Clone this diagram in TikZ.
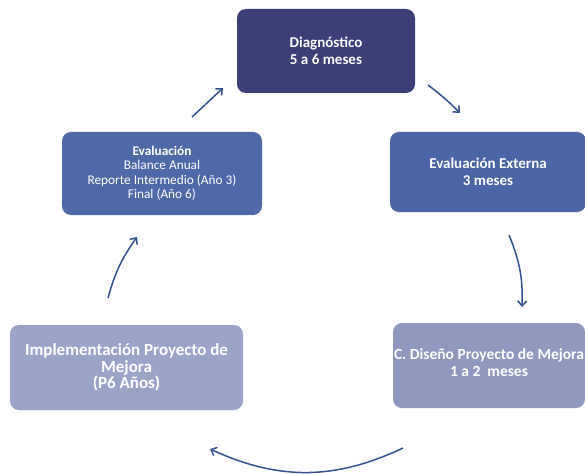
\documentclass[tikz,border=0pt]{standalone}
\usepackage{fontspec}
\setmainfont{Carlito}
\usetikzlibrary{arrows.meta}

\definecolor{diagblue}{HTML}{3B3F75}
\definecolor{evalblue}{HTML}{4E69A8}
\definecolor{extblue}{HTML}{4A66A6}
\definecolor{implgray}{HTML}{9BA3C8}
\definecolor{disgray}{HTML}{9098BF}
\definecolor{flowblue}{HTML}{34528F}

\begin{document}
\begin{tikzpicture}
  [x=1pt, y=-1pt, ->, >={Straight Barb[length=5pt,width=9pt]},
   stage/.style={rounded corners=9pt, text=white, align=center, inner sep=0pt,
     font=\fontsize{15}{17.5}\selectfont\bfseries},
   flow/.style={every edge/.style={draw=flowblue, line width=1.5pt}}]
	\useasboundingbox [fill=white] (0,0) rectangle (585,473);

	% stages of the cycle
	\node [stage, fill=diagblue, minimum width=178pt, minimum height=84pt] (diag) at (326,51) {Diagnóstico\\5 a 6 meses};
	\node [stage, fill=extblue, minimum width=196pt, minimum height=80pt] (extern) at (488,172) {Evaluación Externa\\3 meses};
	\node [stage, fill=disgray, minimum width=192pt, minimum height=85pt, text depth=6pt,
	  font=\fontsize{15.5}{17}\selectfont\bfseries] (diseno) at (489,365.5) {C. Diseño Proyecto de Mejora\\1 a 2~~meses};
	\node [stage, fill=implgray, minimum width=233pt, minimum height=85pt,
	  font=\fontsize{17}{16.5}\selectfont\bfseries] (implem) at (126.5,367.5) {Implementación Proyecto de\\Mejora\\(P6 Años)};
	\node [stage, fill=evalblue, minimum width=200pt, minimum height=83pt,
	  font=\fontsize{13.3}{14.5}\selectfont] (eval) at (162,173.5) {\textbf{Evaluación}\\Balance Anual\\Reporte Intermedio (Año 3)\\Final (Año 6)};

	% arrow ends
	\coordinate (diag-s) at (428,85);   \coordinate (extern-t) at (460,113);
	\coordinate (extern-s) at (509,235); \coordinate (diseno-t) at (522,307);
	\coordinate (diseno-s) at (403,448); \coordinate (implem-t) at (210,449);
	\coordinate (implem-s) at (108,298); \coordinate (eval-t) at (137,237);
	\coordinate (eval-s) at (192,117);   \coordinate (diag-t) at (223,88);

	\path [flow] (diag-s) edge [bend left=4] (extern-t)
				(extern-s) edge [bend left=12] (diseno-t)
				(diseno-s) edge [bend left=25] (implem-t)
				(implem-s) edge [bend left=10] (eval-t)
				(eval-s) edge (diag-t);
\end{tikzpicture}
\end{document}
